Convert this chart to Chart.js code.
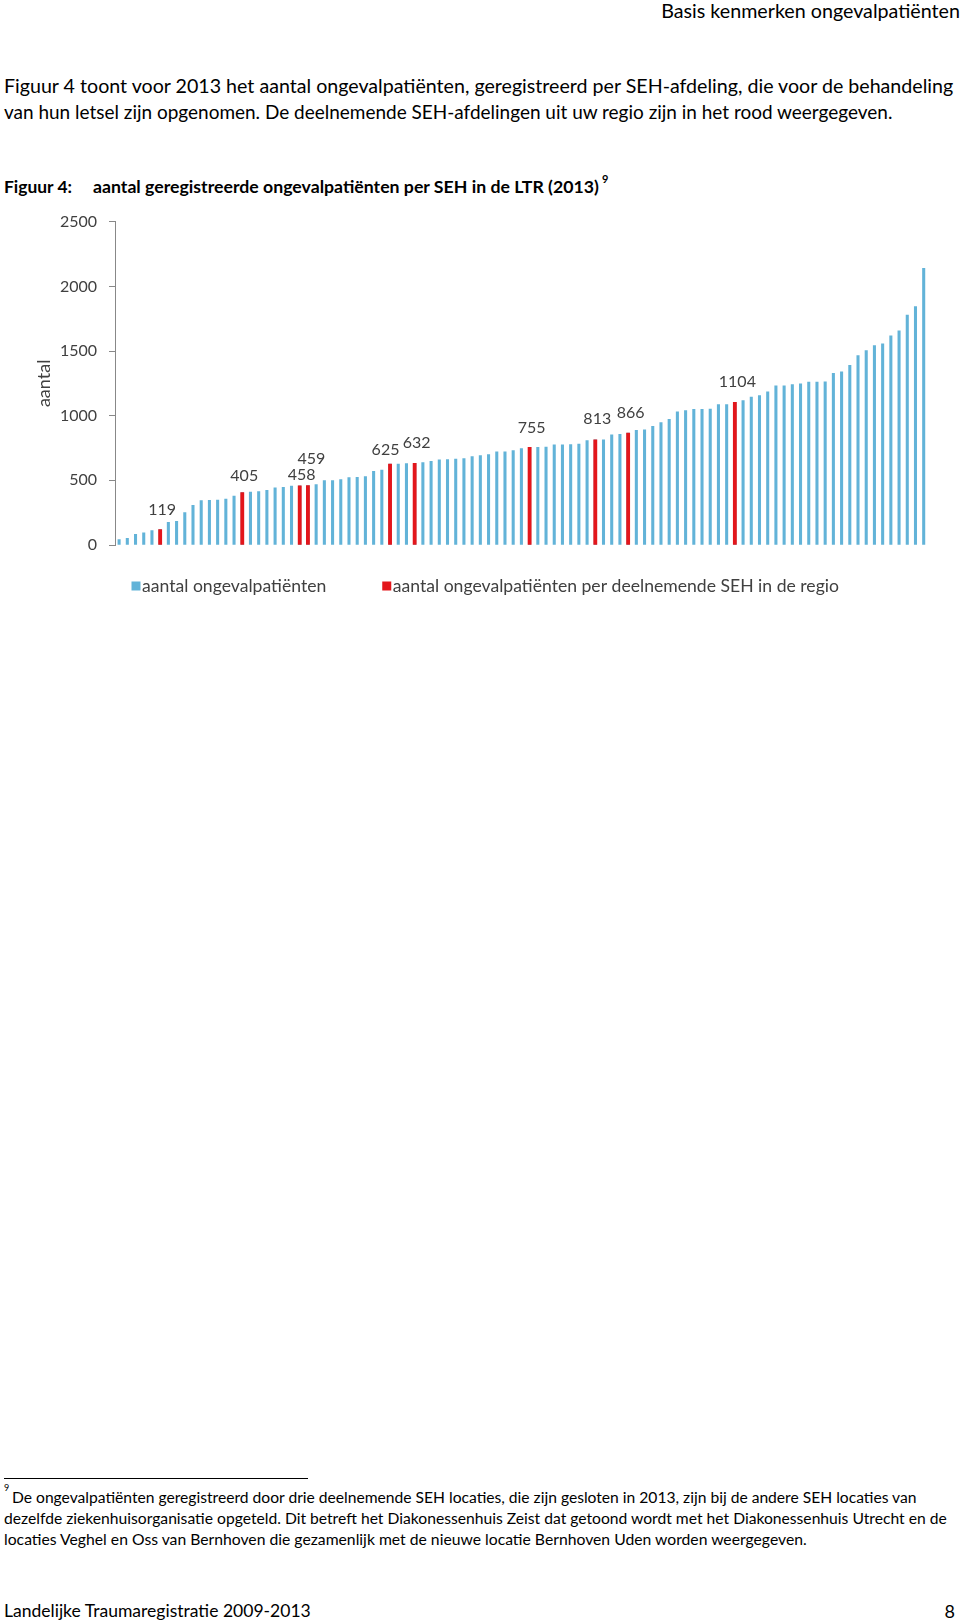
<!DOCTYPE html>
<html><head><meta charset="utf-8">
<script src="https://cdn.jsdelivr.net/npm/chart.js@4.4.1/dist/chart.umd.min.js"></script>
<style>
html,body{margin:0;padding:0;background:#fff}
body{width:960px;height:1624px;position:relative;overflow:hidden;font-family:Lato,"Open Sans",sans-serif;color:#000}
.t{position:absolute;white-space:nowrap;line-height:24px}
#wrap{position:absolute;left:0;top:200px;width:960px;height:420px}
</style></head><body>
<div class="t" data-w="299" style="right:0;top:-1px;font-size:18px">Basis kenmerken ongevalpatiënten</div>
<div class="t" data-w="950" style="left:4px;top:74px;font-size:18px">Figuur 4 toont voor 2013 het aantal ongevalpatiënten, geregistreerd per SEH-afdeling, die voor de behandeling</div>
<div class="t" data-w="889" style="left:4px;top:100px;font-size:18px">van hun letsel zijn opgenomen. De deelnemende SEH-afdelingen uit uw regio zijn in het rood weergegeven.</div>
<div class="t" data-w="68" style="left:4px;top:175px;font-size:17px;font-weight:bold">Figuur 4:</div>
<div class="t" data-w="506" style="left:93px;top:175px;font-size:17px;font-weight:bold">aantal geregistreerde ongevalpatiënten per SEH in de LTR (2013)</div>
<div class="t" style="left:602px;top:167px;font-size:11px;font-weight:bold">9</div>

<div id="wrap"><canvas id="c"></canvas></div>

<div style="position:absolute;left:4px;top:1478px;width:304px;height:1px;background:#000"></div>
<div class="t" style="left:4px;top:1481px;font-size:9px;line-height:14px">9</div>
<div class="t" data-w="905" style="left:12px;top:1487px;font-size:13.5px;line-height:20px">De ongevalpatiënten geregistreerd door drie deelnemende SEH locaties, die zijn gesloten in 2013, zijn bij de andere SEH locaties van</div>
<div class="t" data-w="943" style="left:4px;top:1508px;font-size:13.5px;line-height:20px">dezelfde ziekenhuisorganisatie opgeteld. Dit betreft het Diakonessenhuis Zeist dat getoond wordt met het Diakonessenhuis Utrecht en de</div>
<div class="t" data-w="803" style="left:4px;top:1529px;font-size:13.5px;line-height:20px">locaties Veghel en Oss van Bernhoven die gezamenlijk met de nieuwe locatie Bernhoven Uden worden weergegeven.</div>
<div class="t" data-w="307" style="left:4px;top:1599px;font-size:18px">Landelijke Traumaregistratie 2009-2013</div>
<div class="t" style="right:5px;top:1599px;font-size:18px">8</div>

<script>
// ---- data ----
const categories = Array.from({length: 99}, (_, i) => 'SEH ' + (i + 1));
const allValues = [
  41, 51, 82, 95, 112, 119, 175, 183, 250, 307,
  343, 345, 348, 356, 379, 405, 410, 413, 423, 443,
  446, 456, 458, 459, 467, 498, 498, 505, 521, 523,
  529, 570, 580, 625, 626, 630, 632, 637, 647, 658,
  660, 665, 668, 683, 691, 699, 720, 720, 730, 745,
  755, 756, 758, 774, 775, 776, 781, 807, 813, 814,
  851, 856, 866, 887, 890, 918, 947, 972, 1029, 1040,
  1050, 1050, 1052, 1086, 1086, 1104, 1117, 1143, 1156, 1184,
  1230, 1230, 1241, 1246, 1259, 1259, 1262, 1328, 1339, 1390,
  1465, 1504, 1543, 1556, 1617, 1656, 1777, 1844, 2139
];
const regionIndices = [5, 15, 22, 23, 33, 36, 50, 58, 62, 75];
const regionValues = allValues.map((v, i) => regionIndices.includes(i) ? v : null);
const yTicks = [0, 500, 1000, 1500, 2000, 2500];
const seriesNames = ['aantal ongevalpatiënten', 'aantal ongevalpatiënten per deelnemende SEH in de regio'];

// label nudges [dx, dy above bar top]
const labelNudge = {5:[2,20], 15:[2,17], 22:[2,11], 23:[3.5,26.5], 33:[-4.5,14], 36:[2,20], 50:[2,20], 58:[2,21], 62:[2.5,20], 75:[2.5,20]};
// legend layout
const legendLayout = { startX: 131.5, offsetY: 41, box: 9, textGap: 10.5, itemGap: 56, fontSize: 17.6 };

// fit text widths
document.querySelectorAll('[data-w]').forEach(el => {
  const target = parseFloat(el.dataset.w);
  const fs = parseFloat(el.style.fontSize);
  const w = el.getBoundingClientRect().width;
  el.style.fontSize = (fs * target / w).toFixed(2) + 'px';
});

const dataLabels = {
  id: 'dataLabels',
  afterDatasetsDraw(chart) {
    const meta = chart.getDatasetMeta(1);
    const ctx = chart.ctx;
    ctx.save();
    ctx.font = '16px Lato';
    ctx.fillStyle = '#404040';
    ctx.textAlign = 'center';
    ctx.textBaseline = 'middle';
    meta.data.forEach((el, i) => {
      const v = chart.data.datasets[1].data[i];
      if (v == null) return;
      const [dx, dy] = labelNudge[i] || [2, 20];
      ctx.fillText(String(v), el.x + dx, el.y - dy);
    });
    ctx.restore();
  }
};

const customLegend = {
  id: 'customLegend',
  afterDraw(chart) {
    const ctx = chart.ctx;
    const L = legendLayout;
    ctx.save();
    ctx.font = L.fontSize + 'px Lato';
    ctx.textBaseline = 'middle';
    ctx.textAlign = 'left';
    let x = L.startX;
    const y = chart.chartArea.bottom + L.offsetY;
    chart.data.datasets.forEach(ds => {
      ctx.fillStyle = ds.backgroundColor;
      ctx.fillRect(x, y - L.box / 2, L.box, L.box);
      x += L.textGap;
      ctx.fillStyle = '#404040';
      ctx.fillText(ds.label, x, y);
      x += ctx.measureText(ds.label).width + L.itemGap;
    });
    ctx.restore();
  }
};

new Chart(document.getElementById('c'), {
  type: 'bar',
  data: {
    labels: categories,
    datasets: [
      { label: seriesNames[0], data: allValues, backgroundColor: '#62B3D8', borderWidth: 0, barThickness: 2.4, grouped: false, order: 2 },
      { label: seriesNames[1], data: regionValues, backgroundColor: '#E3161B', borderWidth: 0, barThickness: 3.2, grouped: false, order: 1 }
    ]
  },
  options: {
    responsive: true,
    maintainAspectRatio: false,
    animation: false,
    layout: { padding: { left: 0, right: 32.2, top: 21.7, bottom: 75 } },
    plugins: {
      legend: { display: false },
      tooltip: { enabled: false }
    },
    scales: {
      x: { display: false },
      y: {
        min: 0, max: 2500,
        afterFit(scale) { scale.width = 115; },
        afterBuildTicks(scale) { scale.ticks = yTicks.map(v => ({ value: v })); },
        ticks: { font: { family: 'Lato', size: 16 }, color: '#404040', padding: 12, callback: v => String(v) },
        grid: { display: true, drawOnChartArea: false, drawTicks: true, tickLength: 6, color: '#888888' },
        border: { display: true, color: '#888888', width: 1 },
        title: { display: true, text: 'aantal', font: { family: 'Lato', size: 18 }, color: '#404040', padding: { top: 33, bottom: 0 } }
      }
    }
  },
  plugins: [dataLabels, customLegend]
});
</script>
</body></html>
